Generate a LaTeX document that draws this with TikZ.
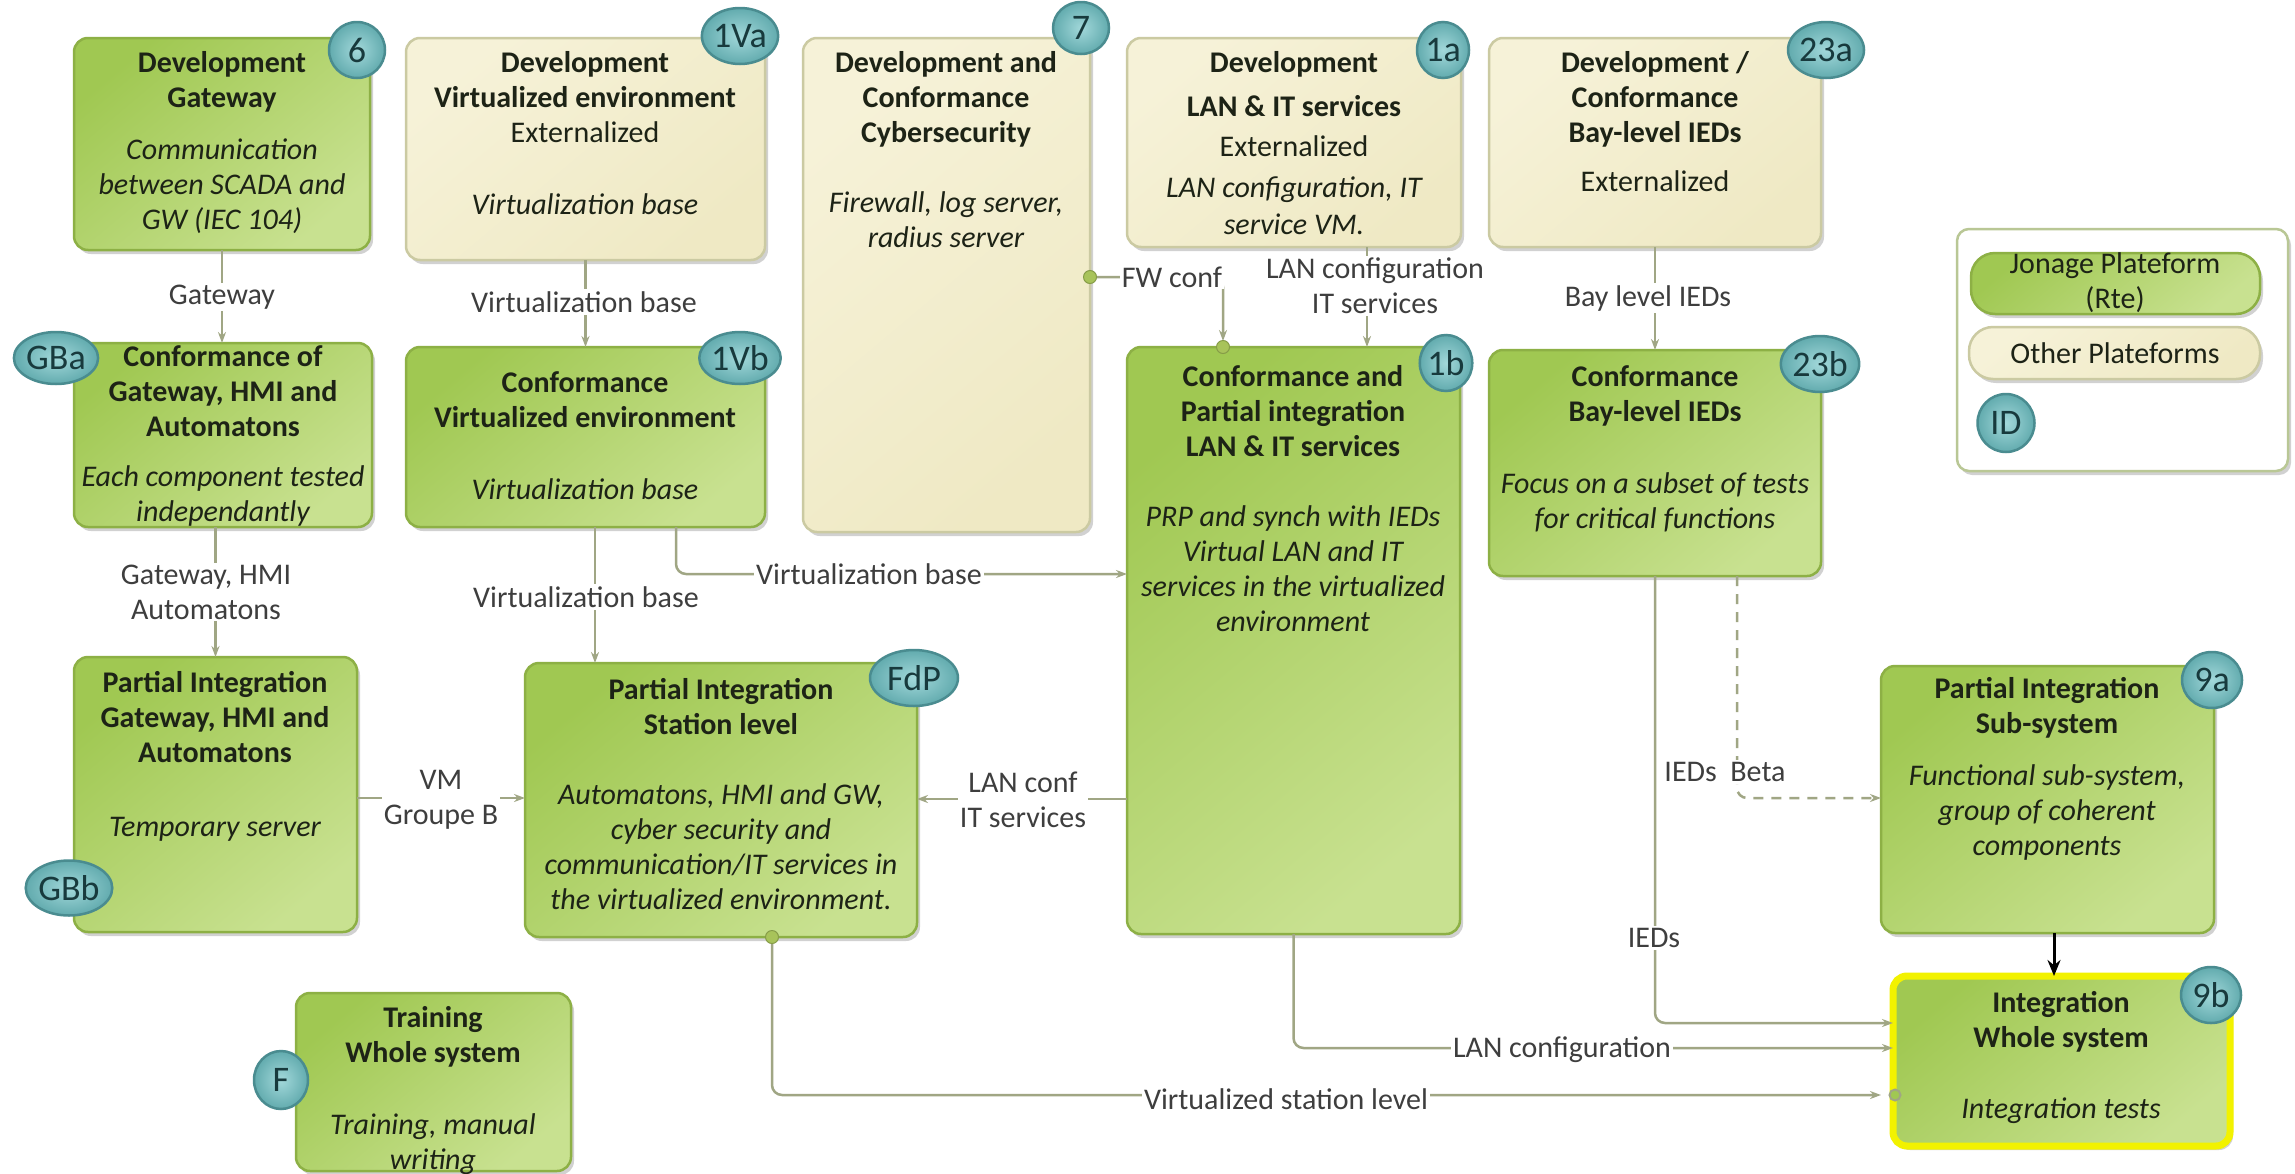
\documentclass[tikz,border=0pt]{standalone}
\usepackage{fontspec}
\setmainfont{Carlito}
\usetikzlibrary{shapes.geometric,arrows.meta,shadows}

\definecolor{grnA}{HTML}{A0C852}
\definecolor{grnB}{HTML}{C8E190}
\definecolor{grnEdge}{HTML}{8DB045}
\definecolor{bgA}{HTML}{F6F2D8}
\definecolor{bgB}{HTML}{EFE9C4}
\definecolor{bgEdge}{HTML}{CBCAA2}
\definecolor{tealIn}{HTML}{A2D8DA}
\definecolor{tealOut}{HTML}{62ABAE}
\definecolor{tealEdge}{HTML}{4A8C90}
\definecolor{tealTxt}{HTML}{183A3D}
\definecolor{connc}{HTML}{A0A684}
\definecolor{dotc}{HTML}{A8C35A}
\definecolor{txt}{HTML}{1D2316}
\definecolor{lbltxt}{HTML}{3E3E3E}
\definecolor{hilite}{HTML}{F2F200}
\definecolor{legEdge}{HTML}{B9C795}

\newcommand\dgfont{\fontsize{30}{35}\selectfont}
% rounded card from its top-left to bottom-right corner
\newcommand\card[6]{\node[#2, anchor=north west, minimum width={(#5-#3)*1pt}, minimum height={(#6-#4)*1pt}] (#1) at (#3,#4) {};}
% text block whose first line is centred on the given height
\newcommand\txtat[5]{\node[#4] (#1) at (#2,{#3-15.5}) {\strut #5};}

\tikzset{
  card/.style={rectangle, rounded corners=14pt, line width=2.5pt, inner sep=0pt, outer sep=0pt,
    drop shadow={shadow xshift=3pt, shadow yshift=-4pt, opacity=0.18, fill=black}},
  greencard/.style={card, draw=grnEdge, top color=grnA, bottom color=grnB, shading angle=40},
  beigecard/.style={card, draw=bgEdge, top color=bgA, bottom color=bgB, shading angle=40},
  finalcard/.style={card, draw=hilite, line width=7pt, top color=grnA, bottom color=grnB, shading angle=40},
  legendcard/.style={card, draw=legEdge, fill=white, rounded corners=12pt},
  greenpill/.style={greencard, rounded corners=24pt},
  beigepill/.style={beigecard, rounded corners=24pt},
  ttl/.style={font=\dgfont\bfseries, text=txt, align=center, anchor=north, inner sep=0pt},
  bdy/.style={font=\dgfont\itshape, text=txt, align=center, anchor=north, inner sep=0pt},
  rg/.style={font=\dgfont, text=txt, align=center, anchor=north, inner sep=0pt},
  lbl/.style={font=\dgfont, text=lbltxt, fill=white, inner sep=2pt, align=center},
  badge/.style={ellipse, draw=tealEdge, line width=2.5pt, inner color=tealIn, outer color=tealOut,
    inner sep=0pt, minimum width=56pt, minimum height=56pt,
    font=\fontsize{36}{40}\selectfont, text=tealTxt},
  dot/.style={circle, fill=dotc, draw=dotc!80!black, line width=1pt, minimum size=13pt, inner sep=0pt},
  ring/.style={circle, fill=grnA, draw=connc, line width=2pt, minimum size=11pt, inner sep=0pt},
  conn/.style={draw=connc, line width=2.5pt, rounded corners=10pt, -{Stealth[length=11pt,width=8pt]}},
  bold arrow/.style={draw=black, line width=3pt, -{Stealth[length=16pt,width=13pt]}}
}

\begin{document}
\begin{tikzpicture}[x=1pt,y=-1pt]
\path[use as bounding box, fill=white] (0,0) rectangle (2295,1173);

% ---------- cards ----------
\card{b6}{greencard}{74}{38}{370}{250}
\card{b1va}{beigecard}{406}{38}{765}{260}
\card{b7}{beigecard}{803}{38}{1090}{532}
\card{b1a}{beigecard}{1127}{38}{1461}{247}
\card{b23a}{beigecard}{1489}{38}{1821}{247}
\card{bgba}{greencard}{74}{343}{372}{527}
\card{b1vb}{greencard}{406}{347}{765}{527}
\card{b1b}{greencard}{1127}{347}{1460}{934}
\card{b23b}{greencard}{1489}{350}{1821}{576}
\card{bgbb}{greencard}{74}{657}{357}{932}
\card{bfdp}{greencard}{525}{663}{917}{937}
\card{b9a}{greencard}{1881}{666}{2214}{933}
\card{b9b}{finalcard}{1893}{976}{2230}{1146}
\card{bf}{greencard}{296}{993}{571}{1171}

% ---------- legend ----------
\card{leg}{legendcard}{1957}{229}{2288}{471}
\card{legg}{greenpill}{1971}{253}{2260}{314}
\card{legb}{beigepill}{1969}{327}{2260}{379}
\txtat{leggt}{2115}{264}{rg}{Jonage Plateform\\(Rte)}
\txtat{legbt}{2115}{354}{rg}{Other Plateforms}

% ---------- card texts ----------
\txtat{t6a}{222}{63}{ttl}{Development\\Gateway}
\txtat{t6b}{222}{150}{bdy}{Communication\\between SCADA and\\GW (IEC 104)}

\txtat{t1vaa}{585}{63}{ttl}{Development\\Virtualized environment}
\txtat{t1vab}{585}{133}{rg}{Externalized}
\txtat{t1vac}{585}{205}{bdy}{Virtualization base}

\txtat{t7a}{946}{63}{ttl}{Development and\\Conformance\\Cybersecurity}
\txtat{t7b}{946}{203}{bdy}{Firewall, log server,\\radius server}

\txtat{t1aa}{1294}{63}{ttl}{Development\\[9pt]LAN \& IT services}
\txtat{t1ab}{1294}{147}{rg}{Externalized}
\txtat{t1ac}{1294}{188}{bdy}{LAN configuration, IT\\[2pt]service VM.}

\txtat{t23aa}{1655}{63}{ttl}{Development /\\Conformance\\Bay-level IEDs}
\txtat{t23ab}{1655}{182}{rg}{Externalized}

\txtat{tgbaa}{223}{357}{ttl}{Conformance of\\Gateway, HMI and\\Automatons}
\txtat{tgbab}{223}{477}{bdy}{Each component tested\\independantly}

\txtat{t1vba}{585}{383}{ttl}{Conformance\\Virtualized environment}
\txtat{t1vbb}{585}{490}{bdy}{Virtualization base}

\txtat{t1ba}{1293}{377}{ttl}{Conformance and\\Partial integration\\LAN \& IT services}
\txtat{t1bb}{1293}{517}{bdy}{PRP and synch with IEDs\\Virtual LAN and IT\\services in the virtualized\\environment}

\txtat{t23ba}{1655}{377}{ttl}{Conformance\\Bay-level IEDs}
\txtat{t23bb}{1655}{484}{bdy}{Focus on a subset of tests\\for critical functions}

\txtat{tgbba}{215}{683}{ttl}{Partial Integration\\Gateway, HMI and\\Automatons}
\txtat{tgbbb}{215}{827}{bdy}{Temporary server}

\txtat{tfdpa}{721}{690}{ttl}{Partial Integration\\Station level}
\txtat{tfdpb}{721}{795}{bdy}{Automatons, HMI and GW,\\cyber security and\\communication/IT services in\\the virtualized environment.}

\txtat{t9aa}{2047}{689}{ttl}{Partial Integration\\Sub-system}
\txtat{t9ab}{2047}{776}{bdy}{Functional sub-system,\\group of coherent\\components}

\txtat{t9ba}{2061}{1003}{ttl}{Integration\\Whole system}
\txtat{t9bb}{2061}{1109}{bdy}{Integration tests}

\txtat{tfa}{433}{1018}{ttl}{Training\\Whole system}
\txtat{tfb}{433}{1125}{bdy}{Training, manual\\writing}

% ---------- bend points of the connectors ----------
\coordinate (fwbend) at (1223,277);
\coordinate (lanx) at (1367,0);
\coordinate (vbx) at (595,0);
\coordinate (vbturn) at (676,574);
\coordinate (vmy) at (0,798);
\coordinate (lany) at (0,799);
\coordinate (betaturn) at (1737,798);
\coordinate (ieturn) at (0,1023);
\coordinate (lcy) at (0,1048);
\coordinate (vsl) at (772,1095);
\coordinate (bkx) at (2054,0);

% ---------- connectors ----------
\draw[conn] (b6.south) -- (b6.south |- bgba.north);
\draw[conn] (b1va.south) -- (b1va.south |- b1vb.north);
\draw[conn, shorten >=6pt] (b7.east |- fwbend) -- (fwbend) -- (fwbend |- b1b.north);
\draw[conn] (b1a.south -| lanx) -- (b1b.north -| lanx);
\draw[conn] (b23a.south) -- (b23a.south |- b23b.north);
\draw[conn] (bgbb.north |- bgba.south) -- (bgbb.north);
\draw[conn] (b1vb.south -| vbx) -- (bfdp.north -| vbx);
\draw[conn] (b1vb.south -| vbturn) |- (b1b.west |- vbturn);
\draw[conn] (bgbb.east |- vmy) -- (bfdp.west |- vmy);
\draw[conn] (b1b.west |- lany) -- (bfdp.east |- lany);
\draw[conn, dash pattern=on 10pt off 8pt] (b23b.south -| betaturn) |- (b9a.west |- betaturn);
\draw[conn] (b23b.south) |- (b9b.west |- ieturn);
\draw[conn] (b1b.south) |- (b9b.west |- lcy);
\draw[conn, shorten >=12pt] (bfdp.south -| vsl) |- (b9b.west |- vsl);
\draw[bold arrow] (b9a.south -| bkx) -- (b9b.north -| bkx);

% connector end marks
\node[dot] (d7) at (b7.east |- fwbend) {};
\node[dot] (d1b) at (fwbend |- b1b.north) {};
\node[dot] (dfdp) at (bfdp.south -| vsl) {};
\node[ring] (r9b) at ([xshift=2pt]b9b.west |- vsl) {};

% ---------- connector labels ----------
\node[lbl] (lgw) at (222,297) {Gateway};
\node[lbl] (lvb1) at (584,302) {Virtualization base};
\node[lbl] (lfw) at (1172,277) {FW conf};
\node[lbl] (llan) at (1375,286) {LAN configuration\\IT services};
\node[lbl] (lbay) at (1648,298) {Bay level IEDs};
\node[lbl] (lghmi) at (206,592) {Gateway, HMI\\Automatons};
\node[lbl] (lvb2) at (586,597) {Virtualization base};
\node[lbl] (lvb3) at (869,574) {Virtualization base};
\node[lbl] (lvm) at (441,800) {VM\\Groupe B};
\node[lbl] (llc) at (1023,800) {LAN conf\\IT services};
\node[lbl] (lbeta) at (1725,772) {IEDs\ \ Beta};
\node[lbl] (lied) at (1654,938) {IEDs};
\node[lbl] (llcf) at (1562,1050) {LAN configuration};
\node[lbl] (lvsl) at (1286,1099) {Virtualized station level};

% ---------- identifier badges ----------
\node[badge] (i6) at (357,50) {6};
\node[badge, minimum width=76pt] (i1va) at (740,36) {1Va};
\node[badge, minimum height=52pt] (i7) at (1081,28) {7};
\node[badge, minimum width=52pt] (i1a) at (1443,50) {1a};
\node[badge, minimum width=72pt] (i23a) at (1826,50) {23a};
\node[badge, minimum width=74pt, minimum height=52pt] (igba) at (56,358) {GBa};
\node[badge, minimum width=78pt, minimum height=52pt] (i1vb) at (740,358) {1Vb};
\node[badge, minimum width=52pt] (i1b) at (1446,363) {1b};
\node[badge, minimum width=72pt] (i23b) at (1820,364) {23b};
\node[badge, minimum width=84pt, minimum height=55pt] (igbb) at (69,888) {GBb};
\node[badge, minimum width=88pt] (ifdp) at (914,678) {FdP};
\node[badge, minimum width=60pt] (i9a) at (2212,680) {9a};
\node[badge, minimum width=60pt] (i9b) at (2211,995) {9b};
\node[badge, minimum width=54pt, minimum height=58pt] (if) at (281,1080) {F};
\node[badge, minimum width=57pt, minimum height=58pt] (iid) at (2006,423) {ID};
\end{tikzpicture}
\end{document}
